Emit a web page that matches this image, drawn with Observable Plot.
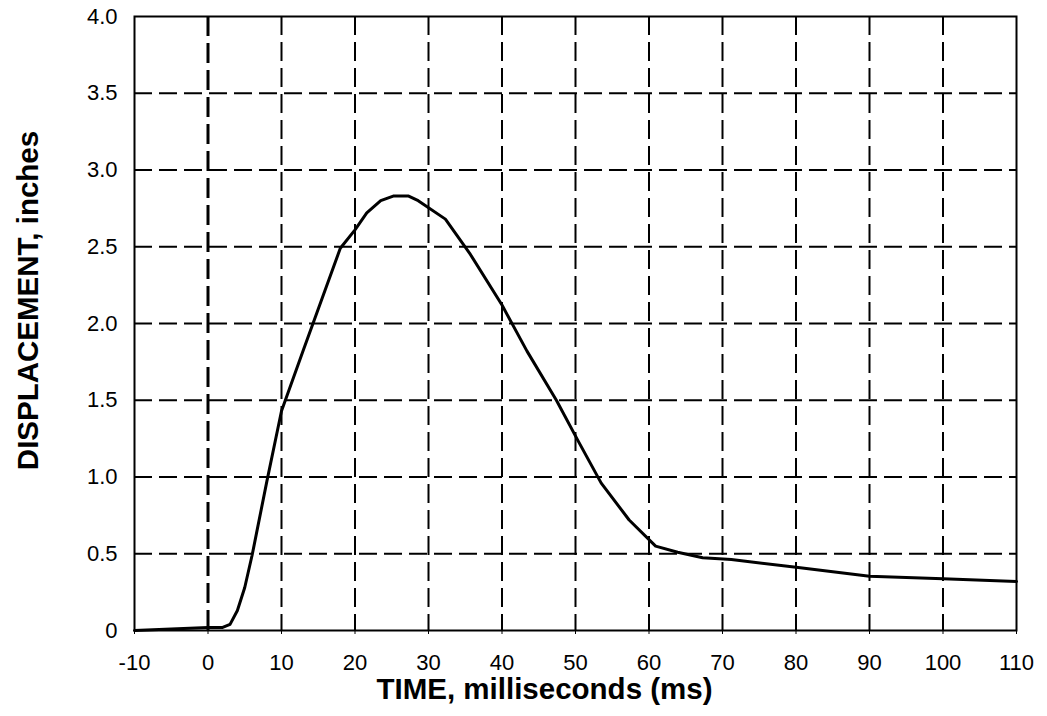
<!DOCTYPE html>
<html><head><meta charset="utf-8">
<script src="https://cdn.jsdelivr.net/npm/d3@7"></script>
<script src="https://cdn.jsdelivr.net/npm/@observablehq/plot@0.6"></script>
<style>body{margin:0;background:#fff} svg{display:block}</style>
</head><body><div id="chart"></div>
<script>
const timeMs = [-10, 0, 2, 3, 4, 5, 6, 8, 10, 13, 18, 20, 21.6, 23.5, 25.2, 27.3, 28.6, 32.3, 35.7, 40, 43.4, 47.4, 50.3, 53.5, 57.3, 60.9, 63.9, 67.3, 71.2, 80.3, 90, 100, 110];
const displacement = [0, 0.02, 0.02, 0.04, 0.13, 0.28, 0.49, 0.97, 1.43, 1.83, 2.49, 2.61, 2.72, 2.80, 2.83, 2.83, 2.80, 2.68, 2.45, 2.12, 1.82, 1.50, 1.24, 0.96, 0.72, 0.55, 0.51, 0.474, 0.463, 0.41, 0.354, 0.337, 0.32];
const xTicks = [-10, 0, 10, 20, 30, 40, 50, 60, 70, 80, 90, 100, 110];
const yTicks = [0, 0.5, 1, 1.5, 2, 2.5, 3, 3.5, 4];
const xTitle = "TIME, milliseconds (ms)";
const yTitle = "DISPLACEMENT, inches";

const data = timeMs.map((t, i) => ({t, d: displacement[i]}));

const chart = Plot.plot({
  width: 1047, height: 716,
  marginLeft: 134, marginRight: 31, marginTop: 16, marginBottom: 86,
  style: {fontFamily: "'Liberation Sans', Arial, sans-serif", background: "#fff", color: "#000"},
  x: {domain: [-10, 110]},
  y: {domain: [0, 4]},
  marks: [
    Plot.ruleX(xTicks.filter(v => v !== 0 && v !== -10 && v !== 110), {stroke: "#000", strokeWidth: 2, strokeDasharray: "19,7"}),
    Plot.ruleY(yTicks.filter(v => v > 0 && v < 4), {stroke: "#000", strokeWidth: 2, strokeDasharray: "18,7"}),
    Plot.ruleX([0], {stroke: "#000", strokeWidth: 3, strokeDasharray: "20,7"}),
    Plot.frame({stroke: "#000", strokeWidth: 2}),
    Plot.axisX({ticks: xTicks, tickSize: 4, tickPadding: 20, fontSize: 22, label: null, tickFormat: d => String(d)}),
    Plot.axisY({ticks: yTicks, tickSize: 0, tickPadding: 17, fontSize: 22, label: null, tickFormat: d => d === 0 ? "0" : d.toFixed(1)}),
    Plot.line(data, {x: "t", y: "d", stroke: "#000", strokeWidth: 3}),
    Plot.text([xTitle], {frameAnchor: "bottom", text: d => d, textAnchor: "middle", lineAnchor: "middle", dx: -31, dy: 59, fontSize: 29.5, fontWeight: "bold", fill: "#000"}),
    Plot.text([yTitle], {frameAnchor: "left", text: d => d, textAnchor: "middle", lineAnchor: "middle", rotate: -90, dx: -106, dy: -23, fontSize: 29.5, fontWeight: "bold", fill: "#000"})
  ]
});
document.getElementById("chart").appendChild(chart);
</script>
</body></html>
